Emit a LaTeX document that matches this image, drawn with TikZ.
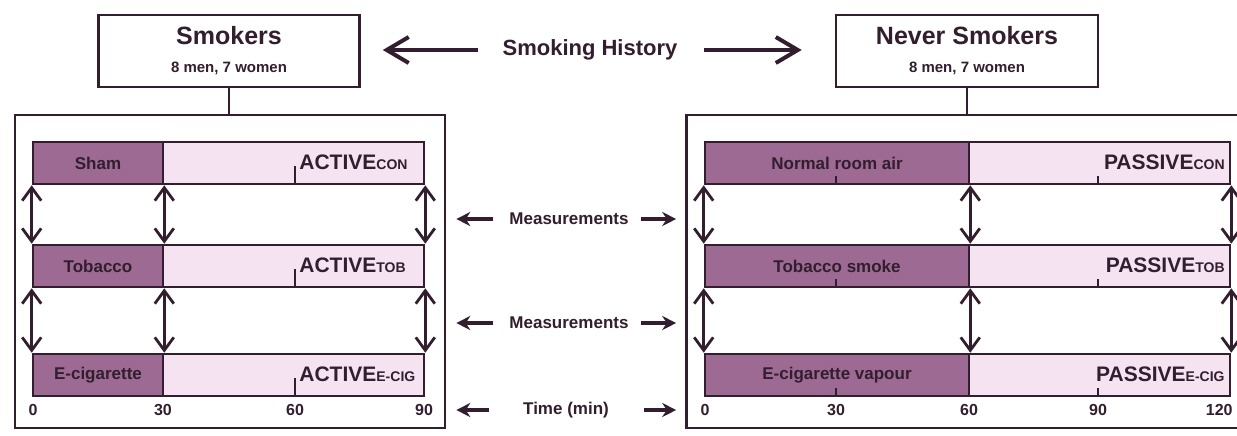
\documentclass[tikz,border=0pt]{standalone}
\usepackage{fontspec}
\setmainfont{Liberation Sans}
\usetikzlibrary{arrows.meta,positioning,calc}
\definecolor{inkline}{RGB}{50,30,47}
\definecolor{expfill}{RGB}{156,106,146}
\definecolor{restfill}{RGB}{245,227,242}

\begin{document}
\begin{tikzpicture}[x=0.5pt, y=-0.5pt,
    every node/.style={text=inkline},
    group/.style={draw=inkline, line width=1.3pt, minimum width=130.5pt, minimum height=36pt, align=center, inner sep=0pt, font=\bfseries},
    frame/.style={draw=inkline, line width=1.3pt, inner sep=0pt},
    expo/.style={draw=inkline, line width=1.3pt, fill=expfill, minimum height=21pt, inner sep=0pt, font=\fontsize{8.5}{10}\selectfont\bfseries},
    rest/.style={draw=inkline, line width=1.3pt, fill=restfill, minimum height=21pt, inner sep=0pt},
    cond/.style={inner sep=0pt, font=\fontsize{10.5}{12}\selectfont\bfseries},
    note/.style={font=\fontsize{8.5}{10}\selectfont\bfseries},
    num/.style={font=\fontsize{8}{10}\selectfont\bfseries},
    link/.style={draw=inkline, line width=1.4pt},
    tick/.style={draw=inkline, line width=1.1pt},
    bigarrow/.style={draw=inkline, line width=2pt, -{Straight Barb[length=11pt,width=13pt]}},
    midarrow/.style={draw=inkline, line width=1.8pt, -{Stealth[length=7pt,width=7pt]}},
    measure/.style={draw=inkline, line width=1.4pt, {Straight Barb[length=6.5pt,width=9.5pt]}-{Straight Barb[length=6.5pt,width=9.5pt]}}
]
    \path[use as bounding box, fill=white] (0,0) rectangle (1237,435);

    % groups and smoking history
    \node[group] (smokers) at (229,51) {{\fontsize{12.5}{14}\selectfont Smokers}\\[2pt]{\fontsize{7.5}{9}\selectfont 8 men, 7 women}};
    \node[group, minimum width=131pt] (never) at (967,51) {{\fontsize{12.5}{14}\selectfont Never Smokers}\\[2pt]{\fontsize{7.5}{9}\selectfont 8 men, 7 women}};
    \node[font=\fontsize{11}{13}\selectfont\bfseries] (history) at (590,50) {Smoking History};

    \node[frame, minimum width=215pt, minimum height=156.5pt] (lframe) at (230,271.5) {};
    \node[frame, minimum width=277pt, minimum height=156.5pt] (rframe) at (963.5,271.5) {};

    \draw[link] (smokers.south) -- (smokers.south |- lframe.north);
    \draw[link] (never.south) -- (never.south |- rframe.north);
    \draw[bigarrow, shorten <=9pt, shorten >=11pt] (history.west) -- (smokers.east |- history.west);
    \draw[bigarrow, shorten <=10pt, shorten >=16.5pt] (history.east) -- (never.west |- history.east);

    % active exposure (smokers)
    \node[expo, minimum width=65pt] (sham) at (98,163) {Sham};
    \node[rest, minimum width=130.5pt] (acon) at (293.5,163) {};
    \node[expo, minimum width=65pt] (tob) at (98,266) {Tobacco};
    \node[rest, minimum width=130.5pt] (atob) at (293.5,266) {};
    \node[expo, minimum width=65pt] (ecig) at (98,375) {E-cigarette};
    \node[rest, minimum width=130.5pt] (aecig) at (293.5,375) {};

    \draw[tick] (295,184) -- (295,166);
    \draw[tick] (295,287) -- (295,269);
    \draw[tick] (295,396) -- (295,378);

    \node[cond, anchor=base west] (acon-t) at (299,169) {ACTIVE{\fontsize{7}{8}\selectfont CON}};
    \node[cond, anchor=base west] (atob-t) at (299,272) {ACTIVE{\fontsize{7}{8}\selectfont TOB}};
    \node[cond, anchor=base west] (aecig-t) at (299,381) {ACTIVE{\fontsize{7}{8}\selectfont E-CIG}};

    \draw[measure] (sham.south west) -- (tob.north west);
    \draw[measure] (sham.south east) -- (tob.north east);
    \draw[measure] (acon.south east) -- (atob.north east);
    \draw[measure] (tob.south west) -- (ecig.north west);
    \draw[measure] (tob.south east) -- (ecig.north east);
    \draw[measure] (atob.south east) -- (aecig.north east);

    \node[num] (l0) at (33,410) {0};
    \node[num] (l30) at (163,410) {30};
    \node[num] (l60) at (295,410) {60};
    \node[num] (l90) at (424,410) {90};

    % passive exposure (never smokers)
    \node[expo, minimum width=132pt] (air) at (837,163) {Normal room air};
    \node[rest, minimum width=130.5pt] (pcon) at (1099.5,163) {};
    \node[expo, minimum width=132pt] (smoke) at (837,266) {Tobacco smoke};
    \node[rest, minimum width=130.5pt] (ptob) at (1099.5,266) {};
    \node[expo, minimum width=132pt] (vapour) at (837,375) {E-cigarette vapour};
    \node[rest, minimum width=130.5pt] (pecig) at (1099.5,375) {};

    \draw[tick] (836,184) -- (836,176);
    \draw[tick] (1098,184) -- (1098,176);
    \draw[tick] (836,287) -- (836,279);
    \draw[tick] (1098,287) -- (1098,279);
    \draw[tick] (836,396) -- (836,388);
    \draw[tick] (1098,396) -- (1098,388);

    \node[cond, anchor=base east] (pcon-t) at (1225,169) {PASSIVE{\fontsize{7}{8}\selectfont CON}};
    \node[cond, anchor=base east] (ptob-t) at (1225,272) {PASSIVE{\fontsize{7}{8}\selectfont TOB}};
    \node[cond, anchor=base east] (pecig-t) at (1225,381) {PASSIVE{\fontsize{7}{8}\selectfont E-CIG}};

    \draw[measure] (air.south west) -- (smoke.north west);
    \draw[measure] (air.south east) -- (smoke.north east);
    \draw[measure] (pcon.south east) -- (ptob.north east);
    \draw[measure] (smoke.south west) -- (vapour.north west);
    \draw[measure] (smoke.south east) -- (vapour.north east);
    \draw[measure] (ptob.south east) -- (pecig.north east);

    \node[num] (r0) at (705,410) {0};
    \node[num] (r30) at (836,410) {30};
    \node[num] (r60) at (969,410) {60};
    \node[num] (r90) at (1098,410) {90};
    \node[num, anchor=east, inner sep=1pt] (r120) at (1235,410) {120};

    % measurements and time
    \node[note] (meas1) at (569,219) {Measurements};
    \node[note] (meas2) at (569,323) {Measurements};
    \node[note] (time) at (566,410) {Time (min)};

    \draw[midarrow, shorten <=4.5pt, shorten >=5pt] (meas1.west) -- (lframe.east |- meas1.west);
    \draw[midarrow, shorten <=2.5pt, shorten >=4.5pt] (meas1.east) -- (rframe.west |- meas1.east);
    \draw[midarrow, shorten <=4.5pt, shorten >=5pt] (meas2.west) -- (lframe.east |- meas2.west);
    \draw[midarrow, shorten <=2.5pt, shorten >=4.5pt] (meas2.east) -- (rframe.west |- meas2.east);
    \draw[midarrow, shorten <=13.5pt, shorten >=5pt] (time.west) -- (lframe.east |- time.west);
    \draw[midarrow, shorten <=14pt, shorten >=4.5pt] (time.east) -- (rframe.west |- time.east);
\end{tikzpicture}
\end{document}
